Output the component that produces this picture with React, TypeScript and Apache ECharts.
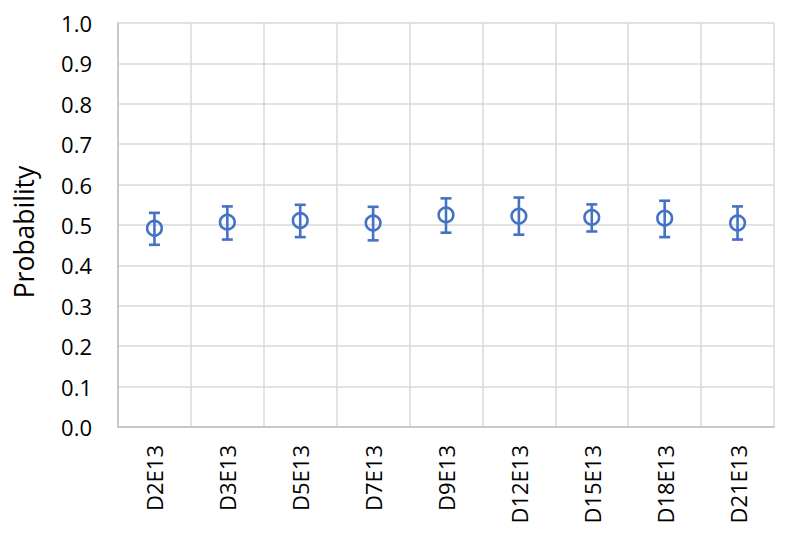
import React, { useEffect, useRef } from "react";
import * as echarts from "echarts";

const categories = ["D2E13", "D3E13", "D5E13", "D7E13", "D9E13", "D12E13", "D15E13", "D18E13", "D21E13"];
const means = [0.492, 0.507, 0.511, 0.505, 0.525, 0.522, 0.519, 0.517, 0.505];
const upper = [0.53, 0.546, 0.55, 0.545, 0.566, 0.568, 0.551, 0.56, 0.546];
const lower = [0.451, 0.464, 0.47, 0.462, 0.481, 0.476, 0.484, 0.47, 0.464];
const yTicks = { min: 0, max: 1, interval: 0.1 };
const yTitle = "Probability";

const BLUE = "#4472C4";
const FONT = "'Open Sans', 'Liberation Sans', sans-serif";

export default function App() {
  const ref = useRef<HTMLDivElement>(null);
  useEffect(() => {
    if (!ref.current) return;
    const chart = echarts.init(ref.current, undefined, { renderer: "svg" });
    const data = categories.map((c, i) => [i, means[i], lower[i], upper[i]]);
    chart.setOption({
      animation: false,
      backgroundColor: "#ffffff",
      grid: { left: 118, right: 15, top: 23, bottom: 109 },
      xAxis: {
        type: "category",
        data: categories,
        boundaryGap: true,
        axisTick: { show: false },
        axisLine: { show: true, lineStyle: { color: "#bfbfbf", width: 1.5 } },
        splitLine: { show: true, lineStyle: { color: "#d9d9d9", width: 1.5 } },
        axisLabel: {
          rotate: 90,
          margin: 18,
          fontSize: 22,
          fontFamily: FONT,
          color: "#000",
          interval: 0,
        },
      },
      yAxis: {
        type: "value",
        min: yTicks.min,
        max: yTicks.max,
        interval: yTicks.interval,
        axisTick: { show: false },
        axisLine: { show: true, lineStyle: { color: "#bfbfbf", width: 1.5 } },
        splitLine: { show: true, lineStyle: { color: "#d9d9d9", width: 1.5 } },
        axisLabel: {
          margin: 26,
          fontSize: 22,
          fontFamily: FONT,
          color: "#000",
          formatter: (v: number) => v.toFixed(1),
        },
      },
      graphic: [
        {
          type: "text",
          x: 24,
          y: 232,
          rotation: Math.PI / 2,
          style: {
            text: yTitle,
            fontSize: 26.5,
            fontFamily: FONT,
            fill: "#000",
            align: "center",
            verticalAlign: "middle",
          },
        },
      ],
      series: [
        {
          type: "custom",
          data,
          encode: { x: 0, y: [1, 2, 3] },
          renderItem: (params: any, api: any) => {
            const i = api.value(0);
            const m = api.coord([i, api.value(1)]);
            const lo = api.coord([i, api.value(2)]);
            const hi = api.coord([i, api.value(3)]);
            const capHalf = 5.5;
            const r = 7.3;
            const style = { stroke: BLUE, lineWidth: 2.6, fill: null };
            return {
              type: "group",
              children: [
                { type: "line", shape: { x1: m[0], y1: hi[1], x2: m[0], y2: lo[1] }, style },
                { type: "line", shape: { x1: m[0] - capHalf, y1: hi[1], x2: m[0] + capHalf, y2: hi[1] }, style },
                { type: "line", shape: { x1: m[0] - capHalf, y1: lo[1], x2: m[0] + capHalf, y2: lo[1] }, style },
                { type: "circle", shape: { cx: m[0], cy: m[1], r }, style: { stroke: BLUE, lineWidth: 2.6, fill: "none" } },
              ],
            };
          },
        },
      ],
    });
    return () => chart.dispose();
  }, []);
  return (
    <div
      ref={ref}
      style={{ position: "fixed", left: 0, top: 0, width: 789, height: 536, background: "#fff" }}
    />
  );
}
